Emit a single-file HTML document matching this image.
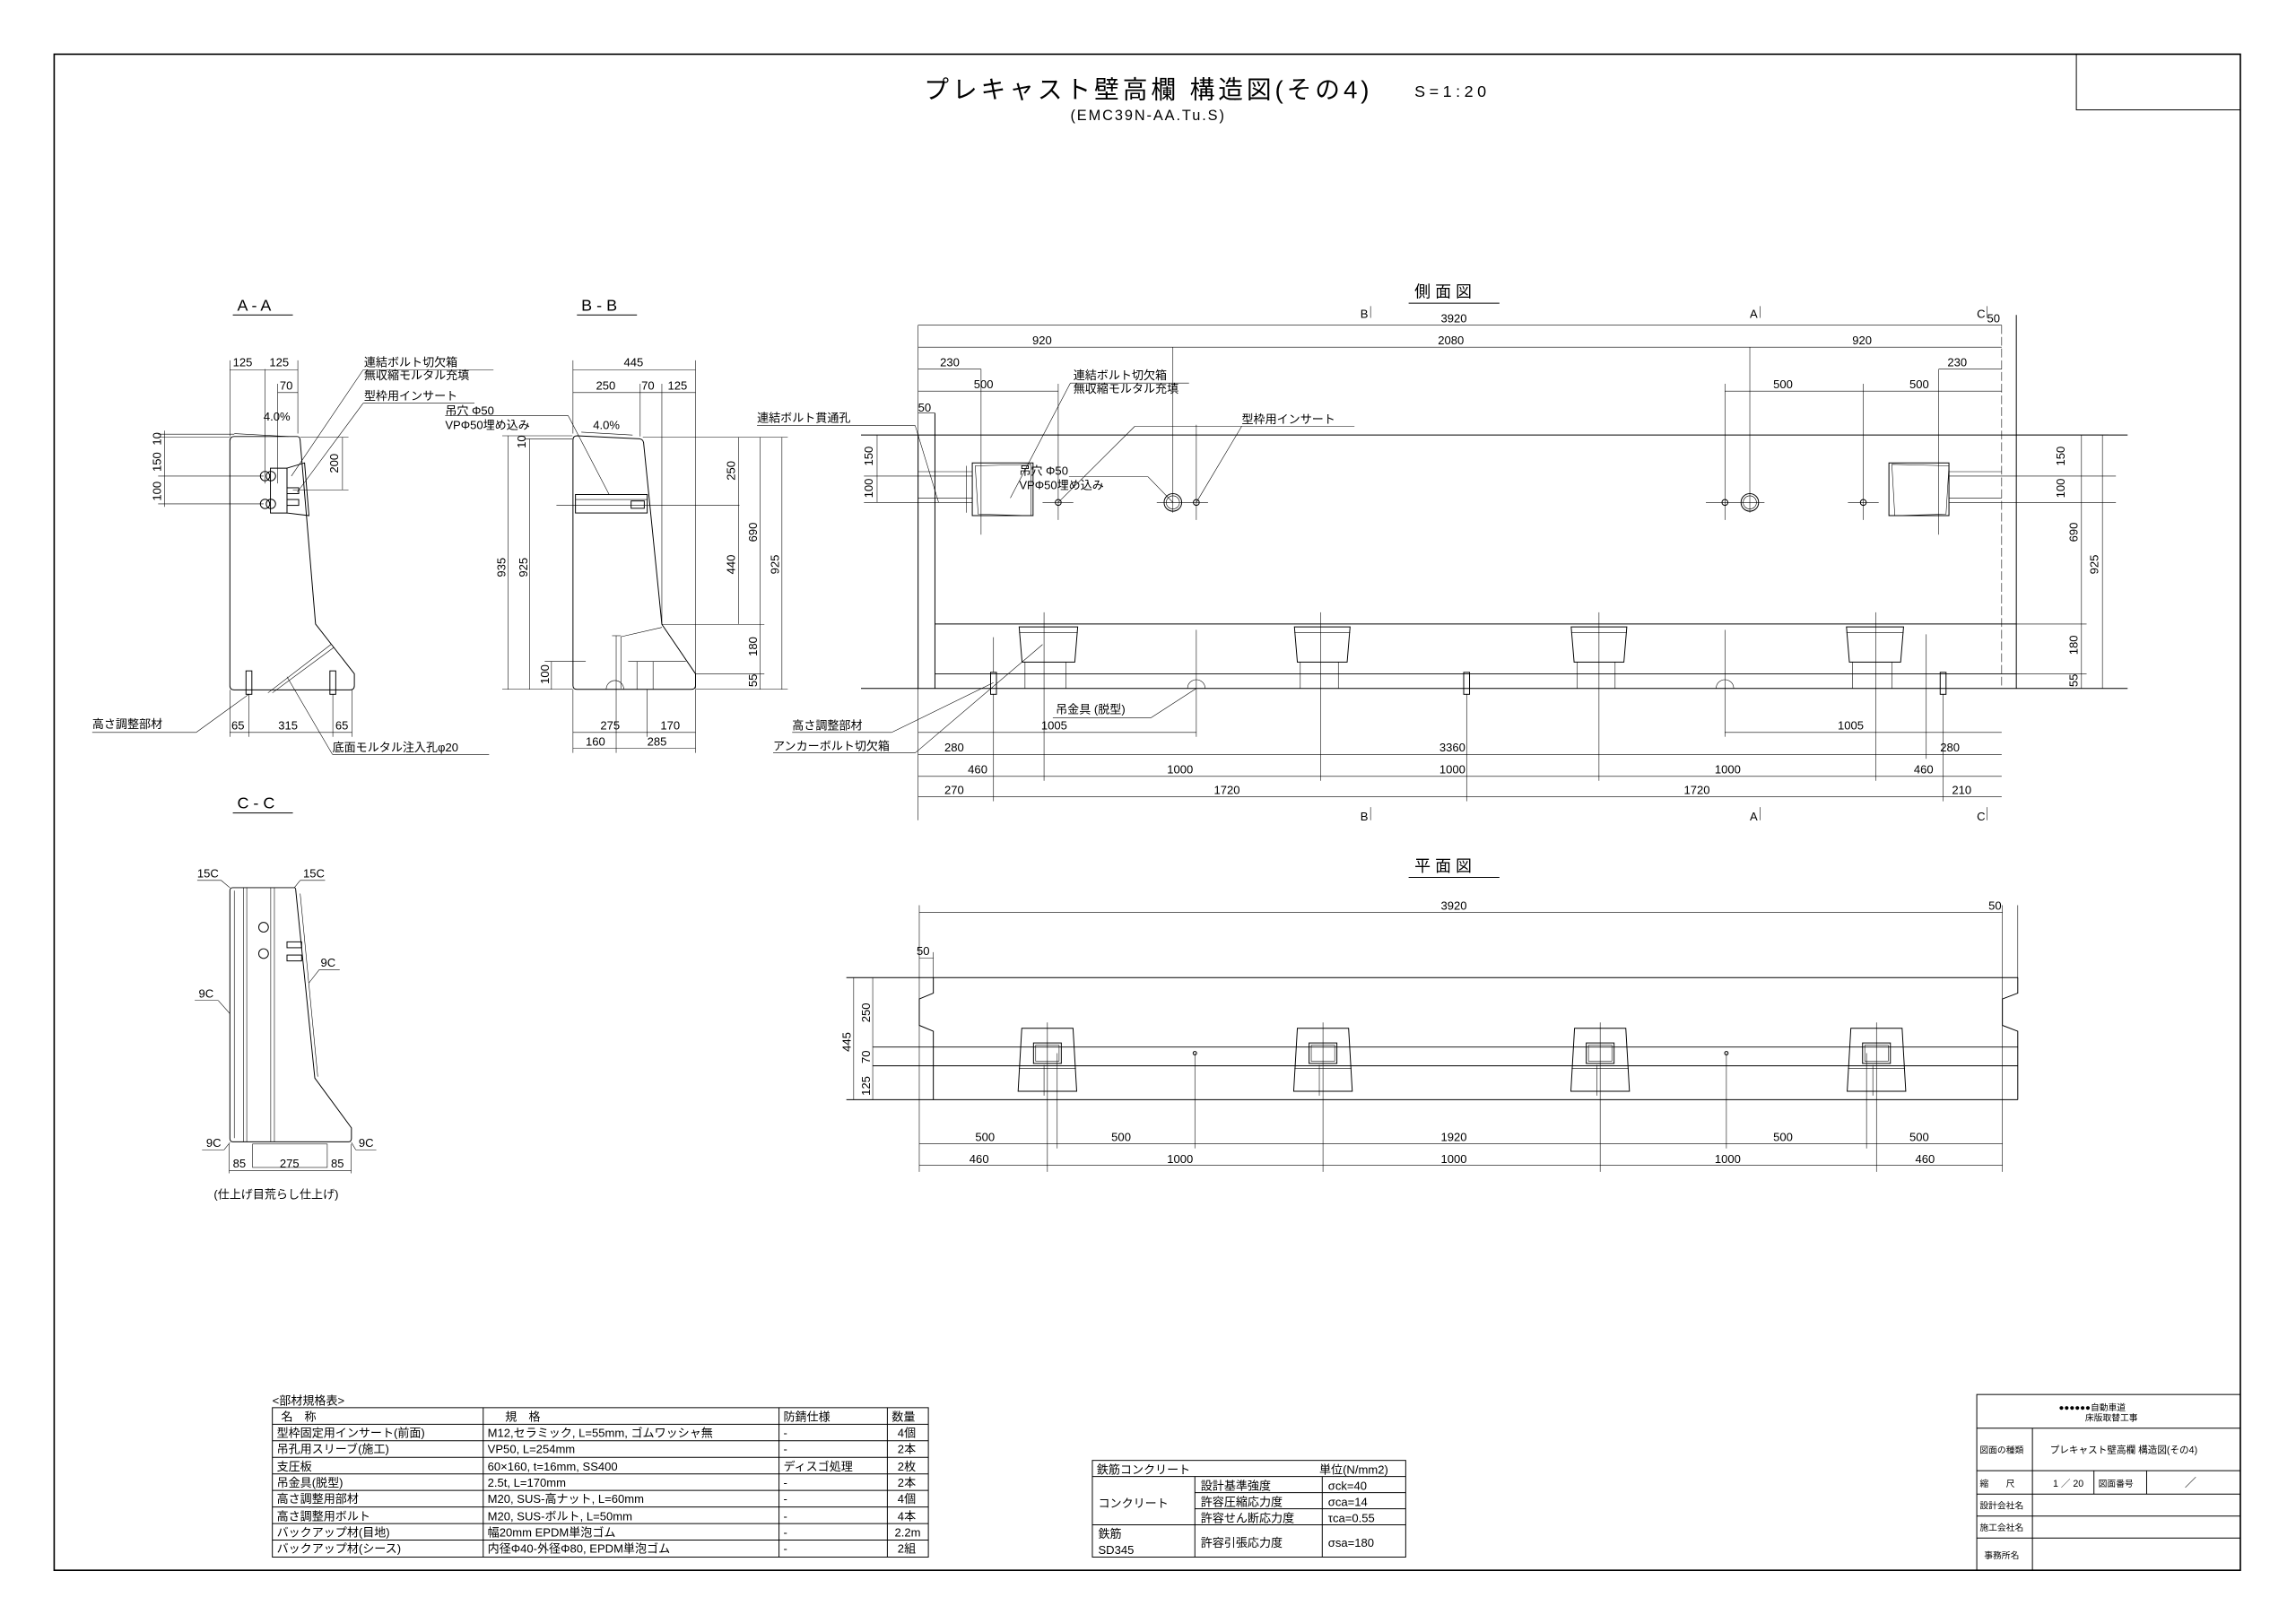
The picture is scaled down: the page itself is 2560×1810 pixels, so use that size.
<!DOCTYPE html>
<html><head><meta charset="utf-8">
<style>
html,body{margin:0;padding:0;background:#fff;}
svg{display:block;}
text{font-family:"Liberation Sans Narrow","Liberation Sans","Noto Sans CJK JP",sans-serif;font-size:8px;fill:#000;}
.j{font-family:"Liberation Sans","Noto Sans CJK JP",sans-serif;}
line,polyline,path,rect,circle,polygon{stroke:#000;stroke-width:0.6;fill:none;}
.t{stroke-width:0.35;}
.h{stroke-width:1;}
</style></head>
<body>
<svg width="2560" height="1810" viewBox="0 0 1568 1108" preserveAspectRatio="none" xmlns="http://www.w3.org/2000/svg">
<!-- border -->
<rect x="37" y="37" width="1493" height="1035" class="h"/>
<rect x="1418" y="37" width="112" height="38"/>

<!-- title -->
<text x="631" y="67" class="j" style="font-size:17px" textLength="304">プレキャスト壁高欄 構造図(その4)</text>
<text x="966" y="66" style="font-size:11px" textLength="49">S=1:20</text>
<text x="731" y="82" style="font-size:10px" textLength="105">(EMC39N-AA.Tu.S)</text>

<!-- view titles -->
<text x="162" y="212" style="font-size:11px">A - A</text><line x1="159" y1="215" x2="200" y2="215"/>
<text x="397" y="212" style="font-size:11px">B - B</text><line x1="394" y1="215" x2="435" y2="215"/>
<text x="966" y="203" class="j" style="font-size:11px">側 面 図</text><line x1="962" y1="207" x2="1024" y2="207"/>
<text x="162" y="552" style="font-size:11px">C - C</text><line x1="159" y1="555" x2="200" y2="555"/>
<text x="966" y="595" class="j" style="font-size:11px">平 面 図</text><line x1="962" y1="599" x2="1024" y2="599"/>

<!-- ============ A-A ============ -->
<path d="M160,298 L203,298 Q205,298 205,301 L215.5,426 L242,460 L242,468 Q242,471 239,471 L160,471 Q157,471 157,468 L157,301 Q157,298 160,298 Z"/>
<line x1="157" y1="298" x2="157" y2="246" class="t"/><line x1="181" y1="252" x2="181" y2="330" class="t"/><line x1="203.4" y1="246" x2="203.4" y2="296" class="t"/>
<line x1="157" y1="252.5" x2="203.4" y2="252.5" class="t"/>
<text x="159" y="250">125</text><text x="184" y="250">125</text>
<line x1="189.6" y1="268" x2="203.4" y2="268" class="t"/><line x1="189.6" y1="262" x2="189.6" y2="330" class="t"/>
<text x="191" y="266">70</text>
<text x="180" y="287">4.0%</text>
<line x1="160" y1="296" x2="197" y2="298" class="t"/>
<line x1="108" y1="296.4" x2="160" y2="296.4" class="t"/><line x1="108" y1="298.5" x2="157" y2="298.5" class="t"/>
<line x1="108" y1="325" x2="180" y2="325" class="t"/><line x1="108" y1="344" x2="180" y2="344" class="t"/>
<line x1="112.5" y1="294" x2="112.5" y2="346" class="t"/>
<text transform="translate(110,304) rotate(-90)">10</text>
<text transform="translate(110,322) rotate(-90)">150</text>
<text transform="translate(110,342) rotate(-90)">100</text>
<line x1="205" y1="298.5" x2="238" y2="298.5" class="t"/><line x1="200" y1="334.4" x2="238" y2="334.4" class="t"/>
<line x1="233.9" y1="298.5" x2="233.9" y2="334.4" class="t"/>
<text transform="translate(231,323) rotate(-90)">200</text>
<circle cx="181" cy="325" r="3.2"/><circle cx="185" cy="325" r="3.2"/>
<circle cx="181" cy="344" r="3.2"/><circle cx="185" cy="344" r="3.2"/>
<polygon points="184.7,319.6 196,319.6 196,350.2 184.7,350.2"/>
<polygon points="196,319.6 208,316 211,352 196,350.2"/>
<rect x="196" y="333" width="8" height="4"/><rect x="196" y="341" width="8" height="4"/>
<line x1="248" y1="252.5" x2="337" y2="252.5" class="t"/><line x1="248" y1="252.5" x2="199" y2="325" class="t"/>
<text x="248.6" y="250" class="j">連結ボルト切欠箱</text>
<text x="248.6" y="259" class="j">無収縮モルタル充填</text>
<line x1="248" y1="275.3" x2="324" y2="275.3" class="t"/><line x1="248" y1="275.3" x2="203" y2="336" class="t"/>
<text x="248.6" y="273" class="j">型枠用インサート</text>
<rect x="168" y="458" width="4" height="16"/><rect x="225.3" y="458" width="4" height="16"/>
<line x1="183" y1="473" x2="226" y2="440" class="t"/><line x1="186" y1="473" x2="228" y2="442" class="t"/>
<line x1="157" y1="471" x2="157" y2="503" class="t"/><line x1="169.9" y1="474" x2="169.9" y2="503" class="t"/>
<line x1="227.3" y1="474" x2="227.3" y2="503" class="t"/><line x1="240.4" y1="471" x2="240.4" y2="503" class="t"/>
<line x1="157" y1="500" x2="240.4" y2="500" class="t"/>
<text x="158" y="498">65</text><text x="190" y="498">315</text><text x="229" y="498">65</text>
<text x="63" y="497" class="j">高さ調整部材</text>
<line x1="63" y1="500" x2="134" y2="500" class="t"/><line x1="134" y1="500" x2="169.9" y2="474" class="t"/>
<text x="227" y="513" class="j">底面モルタル注入孔φ20</text>
<line x1="227" y1="515" x2="334" y2="515" class="t"/><line x1="227" y1="515" x2="196" y2="462" class="t"/>

<!-- ============ B-B ============ -->
<path d="M394,297.5 L437,299.6 Q439,300 439.5,302 L452,426.2 L475,460 L475,468 Q475,470.6 472,470.6 L394,470.6 Q391.3,470.6 391.3,468 L391.3,300.5 Q391.3,297.5 394,297.5 Z"/>
<line x1="391.3" y1="246" x2="391.3" y2="296" class="t"/><line x1="475" y1="246" x2="475" y2="470" class="t"/>
<line x1="391.3" y1="252.5" x2="475" y2="252.5" class="t"/><text x="426" y="250">445</text>
<line x1="391.3" y1="268" x2="475" y2="268" class="t"/>
<line x1="437.2" y1="262" x2="437.2" y2="298" class="t"/><line x1="452" y1="262" x2="452" y2="426" class="t"/>
<text x="407" y="266">250</text><text x="438" y="266">70</text><text x="456" y="266">125</text>
<text x="405" y="293">4.0%</text><line x1="397" y1="295" x2="432" y2="297" class="t"/>
<line x1="343" y1="297.5" x2="391" y2="297.5" class="t"/><line x1="358" y1="299.6" x2="391" y2="299.6" class="t"/>
<line x1="347" y1="297.5" x2="347" y2="470.6" class="t"/><line x1="361.8" y1="299.6" x2="361.8" y2="470.6" class="t"/>
<line x1="343" y1="470.6" x2="391" y2="470.6" class="t"/>
<text transform="translate(345,394) rotate(-90)">935</text><text transform="translate(360,394) rotate(-90)">925</text>
<text transform="translate(359,306) rotate(-90)">10</text>
<line x1="376.6" y1="451.6" x2="376.6" y2="470.6" class="t"/><line x1="372" y1="451.6" x2="400" y2="451.6" class="t"/>
<text transform="translate(375,467) rotate(-90)">100</text>
<line x1="439" y1="298.5" x2="538" y2="298.5" class="t"/>
<line x1="504.5" y1="298.5" x2="504.5" y2="426" class="t"/><line x1="519.2" y1="298.5" x2="519.2" y2="470.6" class="t"/>
<line x1="534" y1="298.5" x2="534" y2="470.6" class="t"/>
<line x1="452" y1="426.2" x2="522" y2="426.2" class="t"/><line x1="475" y1="460" x2="522" y2="460" class="t"/><line x1="475" y1="470.6" x2="538" y2="470.6" class="t"/>
<line x1="380" y1="345" x2="505" y2="345" class="t"/>
<text transform="translate(502,328) rotate(-90)">250</text><text transform="translate(502,392) rotate(-90)">440</text>
<text transform="translate(517,370) rotate(-90)">690</text><text transform="translate(532,392) rotate(-90)">925</text>
<text transform="translate(517,448) rotate(-90)">180</text><text transform="translate(517,469) rotate(-90)">55</text>
<rect x="393" y="337.6" width="49" height="12.6"/><line x1="393" y1="341" x2="442" y2="341" class="t"/>
<rect x="431" y="342" width="9" height="5"/>
<text x="304" y="283" class="j">吊穴 Φ50</text>
<text x="304" y="293" class="j">VPΦ50埋め込み</text>
<line x1="304" y1="283.7" x2="388" y2="283.7" class="t"/><line x1="388" y1="283.7" x2="416" y2="337.6" class="t"/>
<line x1="452" y1="428.3" x2="424" y2="434.7" class="t"/><line x1="424" y1="434.7" x2="424" y2="470" class="t"/>
<line x1="420.8" y1="434" x2="420.8" y2="470.6" class="t"/><line x1="418" y1="434" x2="424" y2="434" class="t"/>
<line x1="429" y1="451.6" x2="468.4" y2="451.6" class="t"/><line x1="446" y1="451.6" x2="446" y2="470.6" class="t"/><line x1="435" y1="451.6" x2="435" y2="470.6" class="t"/>
<path d="M414,470.6 A6,6 0 0 1 426,470.6" class="t"/>
<line x1="420.8" y1="470.6" x2="420.8" y2="514" class="t"/><line x1="442" y1="470.6" x2="442" y2="503" class="t"/>
<line x1="391.3" y1="470.6" x2="391.3" y2="514" class="t"/>
<line x1="391.3" y1="500" x2="475" y2="500" class="t"/><line x1="391.3" y1="510.7" x2="475" y2="510.7" class="t"/>
<line x1="475" y1="470.6" x2="475" y2="514" class="t"/>
<text x="410" y="498">275</text><text x="451" y="498">170</text>
<text x="400" y="509">160</text><text x="442" y="509">285</text>

<!-- ============ C-C ============ -->
<path d="M159,606 L201,606 Q202,606 202,608 L215,736 L240,770 L240,777 Q240,779.5 238,779.5 L159,779.5 Q157,779.5 157,777 L157,608 Q157,606 159,606 Z"/>
<line x1="166.3" y1="606" x2="166.3" y2="779.5" class="t"/><line x1="168.5" y1="606" x2="168.5" y2="779.5" class="t"/>
<line x1="184.9" y1="606" x2="184.9" y2="779.5" class="t"/><line x1="187.4" y1="606" x2="187.4" y2="779.5" class="t"/>
<line x1="160" y1="608" x2="160" y2="777" class="t"/><line x1="205" y1="610" x2="217" y2="735" class="t"/>
<circle cx="180" cy="633" r="3.3"/><circle cx="180" cy="651" r="3.3"/>
<rect x="196" y="643" width="10" height="4"/><rect x="196" y="652" width="10" height="4"/>
<rect x="172.5" y="781" width="51" height="16" class="t"/>
<line x1="156.5" y1="781" x2="156.5" y2="801" class="t"/><line x1="239.8" y1="781" x2="239.8" y2="801" class="t"/>
<line x1="156.5" y1="799.2" x2="239.8" y2="799.2" class="t"/>
<text x="159" y="797">85</text><text x="191" y="797">275</text><text x="226" y="797">85</text>
<text x="134.7" y="599">15C</text><line x1="134.7" y1="601" x2="151" y2="601" class="t"/><line x1="151" y1="601" x2="157" y2="606" class="t"/>
<text x="207" y="599">15C</text><line x1="205" y1="601" x2="222" y2="601" class="t"/><line x1="205" y1="601" x2="201" y2="606" class="t"/>
<text x="219" y="660">9C</text><line x1="218" y1="662" x2="232" y2="662" class="t"/><line x1="218" y1="662" x2="211" y2="671" class="t"/>
<text x="135.7" y="681">9C</text><line x1="133" y1="683" x2="149" y2="683" class="t"/><line x1="149" y1="683" x2="157" y2="692" class="t"/>
<text x="140.8" y="783">9C</text><line x1="138" y1="785" x2="153" y2="785" class="t"/><line x1="153" y1="785" x2="157" y2="780" class="t"/>
<text x="244.9" y="783">9C</text><line x1="243" y1="785" x2="257" y2="785" class="t"/><line x1="243" y1="785" x2="240" y2="780" class="t"/>
<text x="146" y="818" class="j">(仕上げ目荒らし仕上げ)</text>

<!-- ============ SIDE VIEW ============ -->
<!-- body -->
<line x1="588" y1="297" x2="1453" y2="297"/>
<line x1="588" y1="470" x2="1453" y2="470"/>
<line x1="627" y1="222" x2="627" y2="560" class="t"/>
<line x1="627" y1="297" x2="627" y2="470"/>
<line x1="638.5" y1="282" x2="638.5" y2="470"/>
<line x1="1367" y1="222" x2="1367" y2="470" class="t" stroke-dasharray="6,2"/>
<line x1="1377" y1="215" x2="1377" y2="470"/>
<line x1="638.5" y1="426" x2="1377" y2="426"/>
<line x1="638.5" y1="460" x2="1377" y2="460"/>
<!-- top dims -->
<line x1="627" y1="222" x2="1367" y2="222" class="t"/><text x="984" y="220">3920</text>
<line x1="627" y1="237" x2="1367" y2="237" class="t"/><text x="705" y="235">920</text><text x="982" y="235">2080</text><text x="1265" y="235">920</text>
<line x1="801" y1="237" x2="801" y2="350" class="t"/><line x1="1195" y1="237" x2="1195" y2="350" class="t"/>
<line x1="627" y1="252" x2="670" y2="252" class="t"/><text x="642" y="250">230</text>
<line x1="1324" y1="252" x2="1367" y2="252" class="t"/><text x="1330" y="250">230</text>
<line x1="670" y1="252" x2="670" y2="365" class="t"/><line x1="1324" y1="252" x2="1324" y2="365" class="t"/>
<line x1="627" y1="267" x2="722.7" y2="267" class="t"/><text x="665" y="265">500</text>
<line x1="1178" y1="267" x2="1367" y2="267" class="t"/><text x="1211" y="265">500</text><text x="1304" y="265">500</text>
<line x1="722.7" y1="262" x2="722.7" y2="355" class="t"/><line x1="1272.5" y1="262" x2="1272.5" y2="355" class="t"/><line x1="1178" y1="262" x2="1178" y2="355" class="t"/>
<line x1="627" y1="282" x2="638.5" y2="282" class="t"/><text x="627" y="281">50</text>
<text x="1357" y="220">50</text>
<!-- section marks -->
<text x="929" y="217">B</text><line x1="936" y1="209" x2="936" y2="217" class="t"/>
<text x="1195" y="217">A</text><line x1="1202" y1="209" x2="1202" y2="217" class="t"/>
<text x="1350" y="217">C</text><line x1="1357" y1="209" x2="1357" y2="217" class="t"/>
<text x="929" y="560">B</text><line x1="936" y1="551" x2="936" y2="560" class="t"/>
<text x="1195" y="560">A</text><line x1="1202" y1="551" x2="1202" y2="560" class="t"/>
<text x="1350" y="560">C</text><line x1="1357" y1="551" x2="1357" y2="560" class="t"/>
<!-- bolt boxes -->
<polygon points="664,316 705.5,316 705.5,352 664,352"/>
<polygon points="666,318 668,351 704,352 704,317" class="t"/>
<line x1="660" y1="318" x2="660" y2="350" class="t"/>
<line x1="590" y1="325" x2="664" y2="325" class="t"/><line x1="590" y1="343" x2="664" y2="343" class="t"/>
<line x1="627" y1="322" x2="664" y2="322" class="t"/><line x1="627" y1="340" x2="664" y2="340" class="t"/>
<polygon points="1290,316 1331,316 1331,352 1290,352"/>
<polygon points="1292,317 1331,318 1329,351 1294,352" class="t"/>
<line x1="1331" y1="325" x2="1445" y2="325" class="t"/><line x1="1331" y1="343" x2="1445" y2="343" class="t"/>
<line x1="1331" y1="322" x2="1367" y2="322" class="t"/><line x1="1331" y1="340" x2="1367" y2="340" class="t"/>
<!-- holes and inserts -->
<circle cx="801" cy="343" r="6"/><circle cx="801" cy="343" r="4.5" class="t"/>
<circle cx="1195" cy="343" r="6"/><circle cx="1195" cy="343" r="4.5" class="t"/>
<line x1="790" y1="343" x2="825" y2="343" class="t"/><line x1="1165" y1="343" x2="1205" y2="343" class="t"/>
<circle cx="722.7" cy="343" r="2"/><circle cx="817" cy="343" r="2"/><circle cx="1178" cy="343" r="2"/><circle cx="1272.5" cy="343" r="2"/>
<line x1="712" y1="343" x2="733" y2="343" class="t"/><line x1="1262" y1="343" x2="1283" y2="343" class="t"/>
<line x1="817" y1="290" x2="817" y2="355" class="t"/>
<!-- side labels -->
<text x="733" y="259" class="j">連結ボルト切欠箱</text>
<text x="733" y="268" class="j">無収縮モルタル充填</text>
<line x1="731" y1="261.5" x2="812" y2="261.5" class="t"/><line x1="731" y1="261.5" x2="690" y2="340" class="t"/>
<text x="848" y="289" class="j">型枠用インサート</text>
<line x1="848" y1="291" x2="925" y2="291" class="t"/><line x1="848" y1="291" x2="817" y2="343" class="t"/>
<line x1="775" y1="291" x2="848" y2="291" class="t"/><line x1="775" y1="291" x2="722.7" y2="343" class="t"/>
<text x="696" y="324" class="j">吊穴 Φ50</text>
<text x="696" y="334" class="j">VPΦ50埋め込み</text>
<line x1="730" y1="325.5" x2="784" y2="325.5" class="t"/><line x1="784" y1="325.5" x2="801" y2="343" class="t"/>
<text x="517" y="288" class="j">連結ボルト貫通孔</text>
<line x1="517" y1="290.5" x2="625" y2="290.5" class="t"/><line x1="625" y1="290.5" x2="641" y2="343" class="t"/>
<!-- right dims -->
<line x1="1377" y1="297" x2="1440" y2="297" class="t"/>
<line x1="1421.5" y1="297" x2="1421.5" y2="470" class="t"/><line x1="1435.8" y1="297" x2="1435.8" y2="470" class="t"/>
<line x1="1377" y1="426" x2="1425" y2="426" class="t"/><line x1="1377" y1="460" x2="1425" y2="460" class="t"/>
<text transform="translate(1410,318) rotate(-90)">150</text>
<text transform="translate(1410,340) rotate(-90)">100</text>
<text transform="translate(1419,370) rotate(-90)">690</text>
<text transform="translate(1433,392) rotate(-90)">925</text>
<text transform="translate(1419,447) rotate(-90)">180</text>
<text transform="translate(1419,469) rotate(-90)">55</text>
<text transform="translate(596,318) rotate(-90)">150</text>
<text transform="translate(596,340) rotate(-90)">100</text>
<line x1="599" y1="297" x2="599" y2="343" class="t"/>
<!-- lower boxes -->
<polygon points="696,428 736,428 734,452 698,452"/><line x1="696" y1="432" x2="736" y2="432" class="t"/>
<line x1="700" y1="452" x2="700" y2="470" class="t"/><line x1="728" y1="452" x2="728" y2="470" class="t"/>
<polygon points="884,428 922,428 920,452 886,452"/><line x1="884" y1="432" x2="922" y2="432" class="t"/>
<line x1="888" y1="452" x2="888" y2="470" class="t"/><line x1="914" y1="452" x2="914" y2="470" class="t"/>
<polygon points="1073,428 1111,428 1109,452 1075,452"/><line x1="1073" y1="432" x2="1111" y2="432" class="t"/>
<line x1="1077" y1="452" x2="1077" y2="470" class="t"/><line x1="1103" y1="452" x2="1103" y2="470" class="t"/>
<polygon points="1261,428 1300,428 1298,452 1263,452"/><line x1="1261" y1="432" x2="1300" y2="432" class="t"/>
<line x1="1265" y1="452" x2="1265" y2="470" class="t"/><line x1="1292" y1="452" x2="1292" y2="470" class="t"/>
<line x1="713" y1="418" x2="713" y2="533" class="t"/><line x1="902" y1="418" x2="902" y2="533" class="t"/>
<line x1="1092" y1="418" x2="1092" y2="533" class="t"/><line x1="1281" y1="418" x2="1281" y2="533" class="t"/>
<!-- anchors -->
<rect x="676.5" y="459" width="4" height="15"/><line x1="678.5" y1="435" x2="678.5" y2="459" class="t"/><line x1="678.5" y1="474" x2="678.5" y2="547" class="t"/>
<rect x="999.6" y="459" width="4" height="15"/><line x1="1001.6" y1="474" x2="1001.6" y2="547" class="t"/>
<rect x="1325" y="459" width="4" height="15"/><line x1="1327" y1="474" x2="1327" y2="547" class="t"/>
<line x1="1315.5" y1="433" x2="1315.5" y2="518" class="t"/>
<line x1="817" y1="430" x2="817" y2="503" class="t"/><path d="M811,470 A6,6 0 0 1 823,470" class="t"/>
<line x1="1178" y1="430" x2="1178" y2="503" class="t"/><path d="M1172,470 A6,6 0 0 1 1184,470" class="t"/>
<text x="721" y="487" class="j">吊金具 (脱型)</text>
<line x1="719" y1="490" x2="786" y2="490" class="t"/><line x1="786" y1="490" x2="817" y2="470" class="t"/>
<text x="541" y="498" class="j">高さ調整部材</text>
<line x1="541" y1="500" x2="609" y2="500" class="t"/><line x1="609" y1="500" x2="678.5" y2="466" class="t"/>
<text x="528" y="512" class="j">アンカーボルト切欠箱</text>
<line x1="528" y1="514" x2="625" y2="514" class="t"/><line x1="625" y1="514" x2="712" y2="440" class="t"/>
<!-- bottom dims -->
<line x1="627" y1="500" x2="817" y2="500" class="t"/><text x="711" y="498">1005</text>
<line x1="1178" y1="500" x2="1367" y2="500" class="t"/><text x="1255" y="498">1005</text>
<line x1="627" y1="515" x2="1367" y2="515" class="t"/>
<text x="645" y="513">280</text><text x="983" y="513">3360</text><text x="1325" y="513">280</text>
<line x1="627" y1="530" x2="1367" y2="530" class="t"/>
<text x="661" y="528">460</text><text x="797" y="528">1000</text><text x="983" y="528">1000</text><text x="1171" y="528">1000</text><text x="1307" y="528">460</text>
<line x1="627" y1="544" x2="1367" y2="544" class="t"/>
<text x="645" y="542">270</text><text x="829" y="542">1720</text><text x="1150" y="542">1720</text><text x="1333" y="542">210</text>

<!-- ============ PLAN VIEW ============ -->
<line x1="627.8" y1="623" x2="1367.5" y2="623" class="t"/><text x="984" y="621">3920</text>
<line x1="627.8" y1="618" x2="627.8" y2="800" class="t"/><line x1="1367.5" y1="618" x2="1367.5" y2="800" class="t"/>
<line x1="1378" y1="618" x2="1378" y2="668" class="t"/><text x="1358" y="621">50</text>
<text x="626" y="652">50</text><line x1="627.8" y1="654" x2="637.4" y2="654" class="t"/>
<line x1="637.4" y1="650" x2="637.4" y2="668" class="t"/>
<line x1="578" y1="667.4" x2="1378" y2="667.4"/>
<line x1="578" y1="750.7" x2="1378" y2="750.7"/>
<polyline points="637.4,667.4 637.4,678 627.8,682 627.8,700 637.4,704 637.4,750.7"/>
<polyline points="1378,667.4 1378,678 1367.5,682 1367.5,700 1378,704 1378,750.7"/>
<line x1="596" y1="714.8" x2="1378" y2="714.8"/>
<line x1="596" y1="727.6" x2="1378" y2="727.6"/>
<line x1="583" y1="667.4" x2="583" y2="750.7" class="t"/><line x1="596" y1="667.4" x2="596" y2="750.7" class="t"/>
<text transform="translate(581,718) rotate(-90)">445</text>
<text transform="translate(594,698) rotate(-90)">250</text>
<text transform="translate(594,726) rotate(-90)">70</text>
<text transform="translate(594,748) rotate(-90)">125</text>
<!-- plan boxes -->
<g>
<polygon points="697.8,702 732.8,702 735.3,745 695.3,745"/><rect x="705.8" y="712" width="19" height="14"/><rect x="707.3" y="713.5" width="16" height="11" class="t"/>
<line x1="695.8" y1="729.5" x2="734.8" y2="729.5" class="t"/><line x1="715.3" y1="698" x2="715.3" y2="800" class="t"/><line x1="713" y1="727" x2="713" y2="748" class="t"/>
<polygon points="886,702 921,702 923.5,745 883.5,745"/><rect x="894" y="712" width="19" height="14"/><rect x="895.5" y="713.5" width="16" height="11" class="t"/>
<line x1="884" y1="729.5" x2="923" y2="729.5" class="t"/><line x1="903.5" y1="698" x2="903.5" y2="800" class="t"/><line x1="901" y1="727" x2="901" y2="748" class="t"/>
<polygon points="1075.3,702 1110.3,702 1112.8,745 1072.8,745"/><rect x="1083.3" y="712" width="19" height="14"/><rect x="1084.8" y="713.5" width="16" height="11" class="t"/>
<line x1="1073.3" y1="729.5" x2="1112.3" y2="729.5" class="t"/><line x1="1092.8" y1="698" x2="1092.8" y2="800" class="t"/><line x1="1090.5" y1="727" x2="1090.5" y2="748" class="t"/>
<polygon points="1264,702 1299,702 1301.5,745 1261.5,745"/><rect x="1272" y="712" width="19" height="14"/><rect x="1273.5" y="713.5" width="16" height="11" class="t"/>
<line x1="1262" y1="729.5" x2="1301" y2="729.5" class="t"/><line x1="1281.5" y1="698" x2="1281.5" y2="800" class="t"/><line x1="1279" y1="727" x2="1279" y2="748" class="t"/>
</g>
<circle cx="816" cy="719" r="1.2"/><circle cx="1179" cy="719" r="1.2"/>
<line x1="816" y1="719" x2="816" y2="784" class="t"/><line x1="1179" y1="719" x2="1179" y2="784" class="t"/>
<line x1="722" y1="719" x2="722" y2="784" class="t"/><line x1="1274.7" y1="719" x2="1274.7" y2="784" class="t"/>
<line x1="627.8" y1="780.7" x2="1367.5" y2="780.7" class="t"/>
<text x="666" y="779">500</text><text x="759" y="779">500</text><text x="984" y="779">1920</text><text x="1211" y="779">500</text><text x="1304" y="779">500</text>
<line x1="627.8" y1="795.6" x2="1367.5" y2="795.6" class="t"/>
<text x="662" y="794">460</text><text x="797" y="794">1000</text><text x="984" y="794">1000</text><text x="1171" y="794">1000</text><text x="1308" y="794">460</text>

<!-- ============ PARTS TABLE ============ -->
<text x="186" y="959" class="j">&lt;部材規格表&gt;</text>
<g>
<rect x="186" y="961" width="448" height="102"/>
<line x1="330" y1="961" x2="330" y2="1063"/><line x1="532" y1="961" x2="532" y2="1063"/><line x1="606" y1="961" x2="606" y2="1063"/>
<line x1="186" y1="972.3" x2="634" y2="972.3"/><line x1="186" y1="983.6" x2="634" y2="983.6"/><line x1="186" y1="994.9" x2="634" y2="994.9"/>
<line x1="186" y1="1006.2" x2="634" y2="1006.2"/><line x1="186" y1="1017.5" x2="634" y2="1017.5"/><line x1="186" y1="1028.8" x2="634" y2="1028.8"/>
<line x1="186" y1="1040.1" x2="634" y2="1040.1"/><line x1="186" y1="1051.4" x2="634" y2="1051.4"/>
</g>
<g class="j">
<text x="192" y="970" class="j">名　称</text><text x="345" y="970" class="j">規　格</text><text x="535" y="970" class="j">防錆仕様</text><text x="609" y="970" class="j">数量</text>
<text x="189" y="981" class="j">型枠固定用インサート(前面)</text><text x="333" y="981" class="j">M12,セラミック, L=55mm, ゴムワッシャ無</text><text x="535" y="981">-</text><text x="613" y="981" class="j">4個</text>
<text x="189" y="992" class="j">吊孔用スリーブ(施工)</text><text x="333" y="992" class="j">VP50, L=254mm</text><text x="535" y="992">-</text><text x="613" y="992" class="j">2本</text>
<text x="189" y="1004" class="j">支圧板</text><text x="333" y="1004" class="j">60×160, t=16mm, SS400</text><text x="535" y="1004" class="j">ディスゴ処理</text><text x="613" y="1004" class="j">2枚</text>
<text x="189" y="1015" class="j">吊金具(脱型)</text><text x="333" y="1015" class="j">2.5t, L=170mm</text><text x="535" y="1015">-</text><text x="613" y="1015" class="j">2本</text>
<text x="189" y="1026" class="j">高さ調整用部材</text><text x="333" y="1026" class="j">M20, SUS-高ナット, L=60mm</text><text x="535" y="1026">-</text><text x="613" y="1026" class="j">4個</text>
<text x="189" y="1038" class="j">高さ調整用ボルト</text><text x="333" y="1038" class="j">M20, SUS-ボルト, L=50mm</text><text x="535" y="1038">-</text><text x="613" y="1038" class="j">4本</text>
<text x="189" y="1049" class="j">バックアップ材(目地)</text><text x="333" y="1049" class="j">幅20mm EPDM単泡ゴム</text><text x="535" y="1049">-</text><text x="611" y="1049">2.2m</text>
<text x="189" y="1060" class="j">バックアップ材(シース)</text><text x="333" y="1060" class="j">内径Φ40-外径Φ80, EPDM単泡ゴム</text><text x="535" y="1060">-</text><text x="613" y="1060" class="j">2組</text>
</g>

<!-- ============ CONCRETE TABLE ============ -->
<rect x="746" y="997" width="214" height="66"/>
<line x1="746" y1="1008" x2="960" y2="1008"/><line x1="816" y1="1008" x2="816" y2="1063"/><line x1="903" y1="1008" x2="903" y2="1063"/>
<line x1="816" y1="1019" x2="960" y2="1019"/><line x1="816" y1="1030" x2="960" y2="1030"/><line x1="746" y1="1041" x2="960" y2="1041"/>
<text x="749" y="1006" class="j">鉄筋コンクリート</text><text x="901" y="1006" class="j">単位(N/mm2)</text>
<text x="750" y="1029" class="j">コンクリート</text>
<text x="820" y="1017" class="j">設計基準強度</text><text x="907" y="1017" class="j">σck=40</text>
<text x="820" y="1028" class="j">許容圧縮応力度</text><text x="907" y="1028" class="j">σca=14</text>
<text x="820" y="1039" class="j">許容せん断応力度</text><text x="907" y="1039" class="j">τca=0.55</text>
<text x="750" y="1050" class="j">鉄筋</text><text x="750" y="1061">SD345</text>
<text x="820" y="1056" class="j">許容引張応力度</text><text x="907" y="1056" class="j">σsa=180</text>

<!-- ============ TITLE BLOCK ============ -->
<rect x="1350" y="952" width="180" height="120"/>
<line x1="1350" y1="975" x2="1530" y2="975"/><line x1="1350" y1="1004" x2="1530" y2="1004"/>
<line x1="1350" y1="1020" x2="1530" y2="1020"/><line x1="1350" y1="1035" x2="1530" y2="1035"/><line x1="1350" y1="1050" x2="1530" y2="1050"/>
<line x1="1388" y1="975" x2="1388" y2="1072"/><line x1="1430" y1="1004" x2="1430" y2="1020"/><line x1="1466" y1="1004" x2="1466" y2="1020"/>
<text x="1406" y="963" class="j" style="font-size:6px">●●●●●●自動車道</text>
<text x="1424" y="970" class="j" style="font-size:6px">床版取替工事</text>
<text x="1352" y="992" class="j" style="font-size:6px">図面の種類</text>
<text x="1400" y="992" class="j" style="font-size:6.5px">プレキャスト壁高欄 構造図(その4)</text>
<text x="1352" y="1015" class="j" style="font-size:6px">縮　　尺</text>
<text x="1402" y="1015" style="font-size:6.5px">1 ／ 20</text>
<text x="1433" y="1015" class="j" style="font-size:6px">図面番号</text>
<text x="1492" y="1015" style="font-size:8px">／</text>
<text x="1352" y="1030" class="j" style="font-size:6px">設計会社名</text>
<text x="1352" y="1045" class="j" style="font-size:6px">施工会社名</text>
<text x="1355" y="1064" class="j" style="font-size:6px">事務所名</text>
</svg>
</body></html>
